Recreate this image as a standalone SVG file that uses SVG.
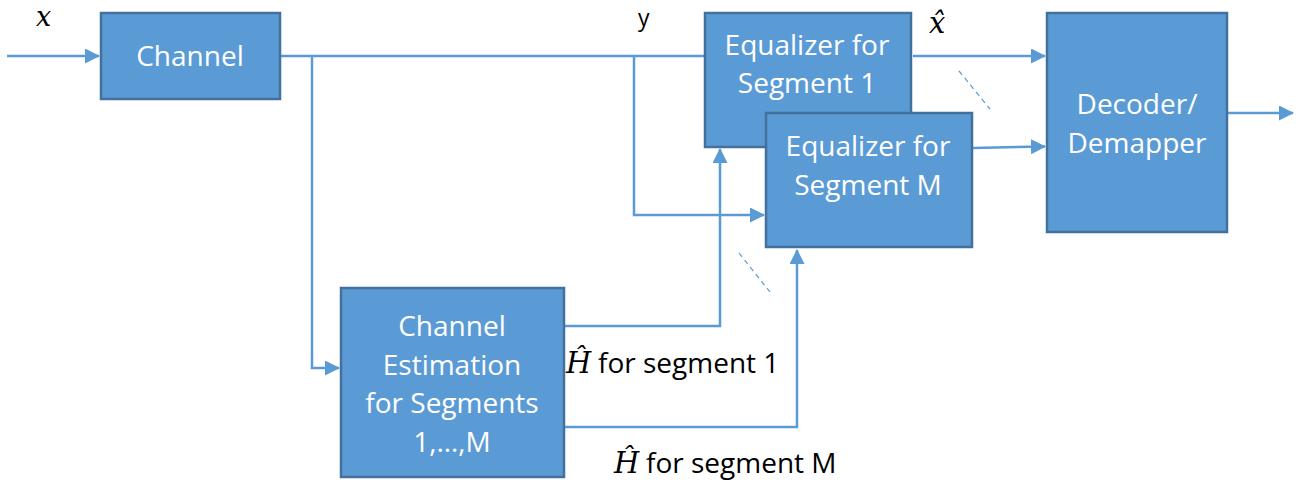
<svg xmlns="http://www.w3.org/2000/svg" width="1300" height="483" viewBox="0 0 1300 483">
<style>
.box{fill:#5B9BD5;stroke:#41719C;stroke-width:2.5}
.bt{font-family:"Open Sans","Liberation Sans",sans-serif;font-size:28px;fill:#fff;text-anchor:middle}
.lt{font-family:"Open Sans","Liberation Sans",sans-serif;font-size:28px;fill:#000}
.mt{font-family:"DejaVu Serif","Liberation Serif",serif;font-style:italic;font-size:29px;fill:#000}
.ln{fill:none;stroke:#5B9BD5;stroke-width:2.5}
.ds{fill:none;stroke:#5B9BD5;stroke-width:1.2;stroke-dasharray:5 4}
</style>
<defs>
<marker id="ah" markerWidth="6" markerHeight="6" refX="5.6" refY="3" orient="auto" markerUnits="strokeWidth"><path d="M0,0 L6,3 L0,6 Z" fill="#5B9BD5"/></marker>
</defs>
<g id="connectors">
<path class="ln" d="M7,56 H99" marker-end="url(#ah)"/>
<path class="ln" d="M281,56 H704"/>
<path class="ln" d="M312,56 V368 H339" marker-end="url(#ah)"/>
<path class="ln" d="M634,56 V215 H764" marker-end="url(#ah)"/>
<path class="ln" d="M565,326 H720 V149" marker-end="url(#ah)"/>
<path class="ln" d="M565,427 H797 V250" marker-end="url(#ah)"/>
<path class="ln" d="M913,56 H1045" marker-end="url(#ah)"/>
<path class="ln" d="M973,148 L1045,146.5" marker-end="url(#ah)"/>
<path class="ln" d="M1228,113 H1293" marker-end="url(#ah)"/>
<path class="ds" d="M959,71 L990,109"/>
<path class="ds" d="M739,253 L770,292"/>
</g>
<g id="channel">
<rect class="box" x="101" y="13" width="179" height="86"/>
<text class="bt" x="190" y="66">Channel</text>
</g>
<g id="eq1">
<rect class="box" x="705" y="13" width="206" height="134"/>
<text class="bt" x="807" y="55">Equalizer for</text>
<text class="bt" x="807" y="93">Segment 1</text>
</g>
<g id="eqM">
<rect class="box" x="766" y="113" width="206" height="134"/>
<text class="bt" x="868" y="156">Equalizer for</text>
<text class="bt" x="868" y="195">Segment M</text>
</g>
<g id="decoder">
<rect class="box" x="1047" y="13" width="180" height="219"/>
<text class="bt" x="1137" y="114">Decoder/</text>
<text class="bt" x="1137" y="153">Demapper</text>
</g>
<g id="chest">
<rect class="box" x="341" y="288" width="223" height="189"/>
<text class="bt" x="452" y="336">Channel</text>
<text class="bt" x="452" y="375">Estimation</text>
<text class="bt" x="452" y="413">for Segments</text>
<text class="bt" x="452" y="452">1,…,M</text>
</g>
<g id="labels">
<text class="mt" x="36" y="26" style="font-size:27px">x</text>
<text class="lt" x="638" y="26" style="font-size:23px">y</text>
<text class="mt" x="929" y="33">x̂</text>
<text class="mt" x="566" y="373">Ĥ</text>
<text class="lt" x="598" y="373">for segment 1</text>
<text class="mt" x="614" y="473">Ĥ</text>
<text class="lt" x="646" y="473">for segment M</text>
</g>
</svg>
